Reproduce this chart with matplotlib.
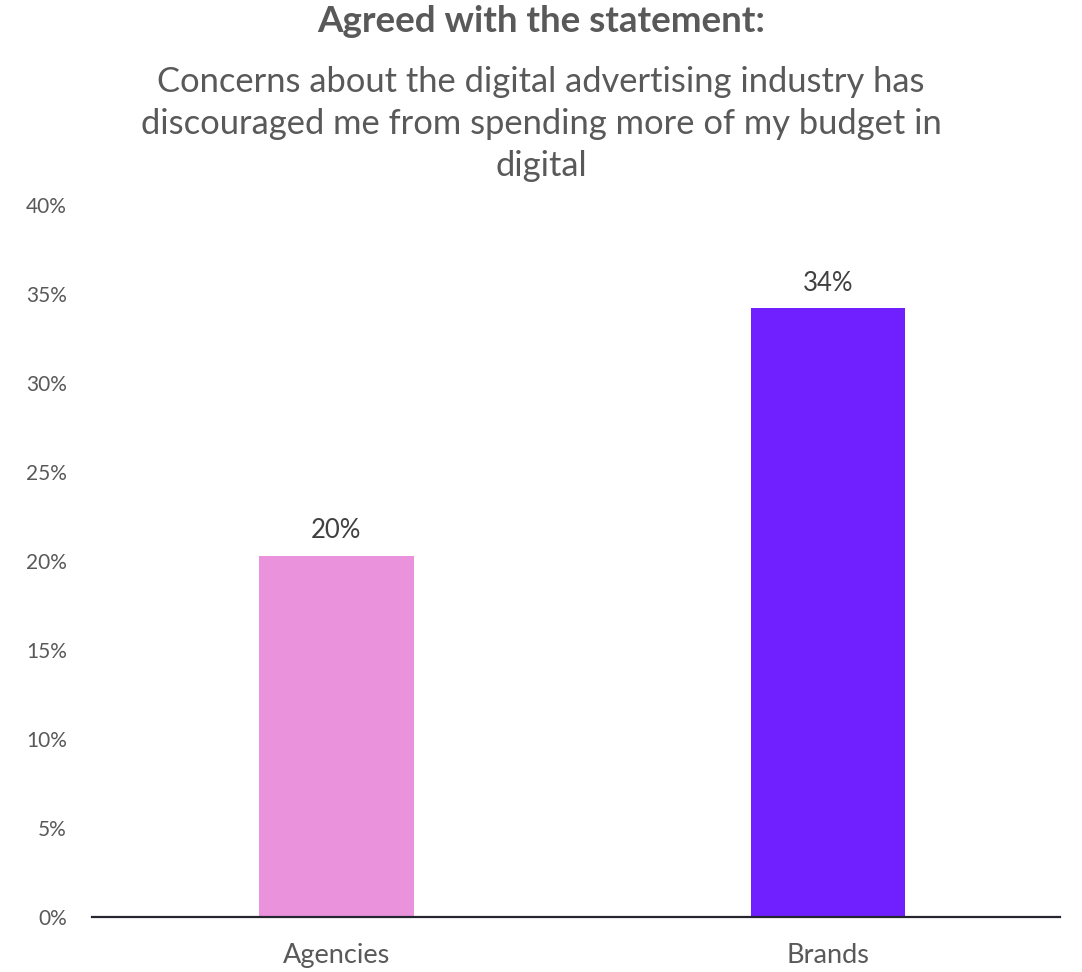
import numpy as np
import matplotlib.pyplot as plt
import matplotlib.ticker as mtick

plt.rcParams['font.family'] = ['Lato', 'DejaVu Sans']

categories = ["Agencies", "Brands"]
values = [20.3, 34.2]
colors = ["#EA93DC", "#7020FF"]
yticks = [0, 5, 10, 15, 20, 25, 30, 35, 40]
subtitle = [
    "Concerns about the digital advertising industry has",
    "discouraged me from spending more of my budget in",
    "digital",
]

fig = plt.figure(figsize=(10.82, 9.72), dpi=100)
ax = fig.add_axes([92 / 1082, 1 - 917 / 972, (1060 - 92) / 1082, (917 - 205) / 972])

x = np.arange(len(categories))
bars = ax.bar(x, values, width=0.315, color=colors, zorder=2)
for b, v in zip(bars, values):
    ax.text(b.get_x() + b.get_width() / 2, v + 0.7, f"{v:.0f}%",
            ha="center", va="bottom", fontsize=18.5, color="#404040")

ax.set_xlim(-0.497, 1.472)
ax.set_ylim(0, 40)
ax.set_yticks(yticks)
ax.yaxis.set_major_formatter(mtick.FuncFormatter(lambda v, _: f"{v:.0f}%"))
ax.set_xticks(x)
ax.set_xticklabels(categories)
ax.tick_params(axis="y", length=0, pad=18, labelsize=15, labelcolor="#595959")
ax.tick_params(axis="x", length=0, pad=19, labelsize=19.5, labelcolor="#595959")
for s in ["top", "right", "left"]:
    ax.spines[s].set_visible(False)
ax.spines["bottom"].set_color("#262633")
ax.spines["bottom"].set_linewidth(1.6)

fig.text(0.5, 1 - 22 / 972, "Agreed with the statement:", ha="center", va="center",
         fontsize=26.5, fontweight="bold", color="#595959")
for i, line in enumerate(subtitle):
    fig.text(0.5, 1 - (82 + 42 * i) / 972, line, ha="center", va="center",
             fontsize=24.8, color="#595959")

fig.savefig("out.png", dpi=100)
